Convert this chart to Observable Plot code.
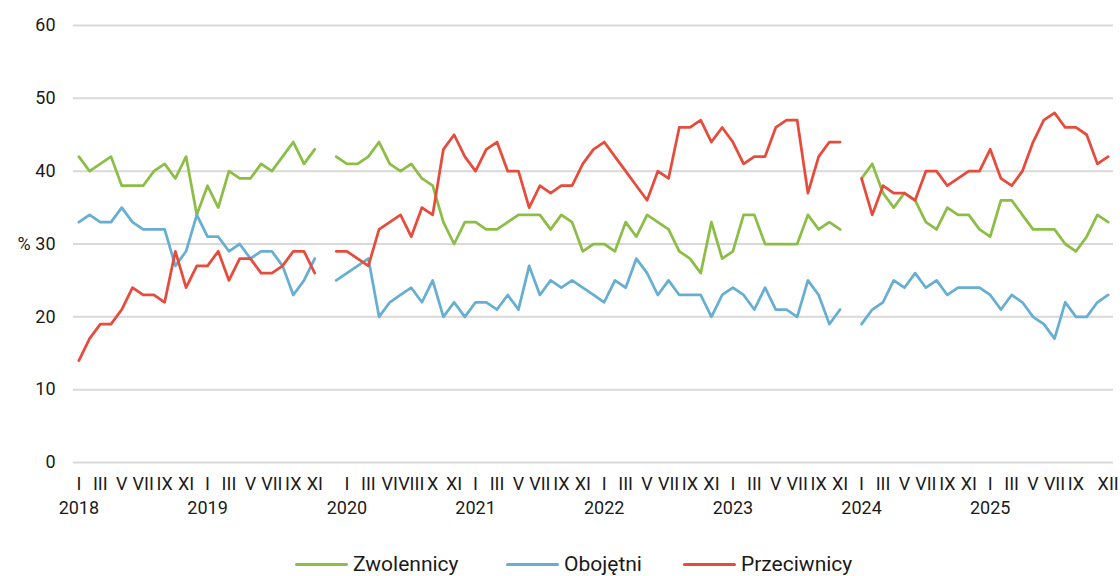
<!DOCTYPE html>
<html><head><meta charset="utf-8">
<script src="https://cdn.jsdelivr.net/npm/d3@7"></script>
<script src="https://cdn.jsdelivr.net/npm/@observablehq/plot@0.6"></script>
<style>
html,body{margin:0;padding:0;background:#fff;}
#wrap{position:relative;width:1120px;height:576px;font-family:Roboto,"Noto Sans",sans-serif;overflow:hidden;}
#legend{position:absolute;left:0;top:553px;width:1120px;height:23px;}
.item{position:absolute;top:0;height:23px;line-height:23px;display:flex;align-items:center;font-size:21px;color:#1a1a1a;white-space:nowrap;}
.sw{width:53px;height:3px;margin-right:5px;border-radius:1.5px;}
</style></head><body><div id="wrap"><div id="chart"></div><div id="legend"></div></div>
<script>
// Series names and colours
const seriesNames = ["Zwolennicy", "Obojętni", "Przeciwnicy"];
const seriesColors = ["#8CBE46", "#67AED3", "#E64B3C"];

// Monthly survey values (97 categories, null = break in the line)
const zwolennicy = [
  42,40,41,42,38,38,38,40,41,39,42,34,            // 2018
  38,35,40,39,39,41,40,42,44,41,43,null,          // 2019
  42,41,41,42,44,41,40,41,39,38,33,30,33,         // 2020
  33,32,32,33,34,34,34,32,34,33,29,30,            // 2021
  30,29,33,31,34,33,32,29,28,26,33,28,            // 2022
  29,34,34,30,30,30,30,34,32,33,32,null,          // 2023
  39,41,37,35,37,36,33,32,35,34,34,32,            // 2024
  31,36,36,34,32,32,32,30,29,31,34,33             // 2025
];
const obojetni = [
  33,34,33,33,35,33,32,32,32,27,29,34,
  31,31,29,30,28,29,29,27,23,25,28,null,
  25,26,27,28,20,22,23,24,22,25,20,22,20,
  22,22,21,23,21,27,23,25,24,25,24,23,
  22,25,24,28,26,23,25,23,23,23,20,23,
  24,23,21,24,21,21,20,25,23,19,21,null,
  19,21,22,25,24,26,24,25,23,24,24,24,
  23,21,23,22,20,19,17,22,20,20,22,23
];
const przeciwnicy = [
  14,17,19,19,21,24,23,23,22,29,24,27,
  27,29,25,28,28,26,26,27,29,29,26,null,
  29,29,28,27,32,33,34,31,35,34,43,45,42,
  40,43,44,40,40,35,38,37,38,38,41,43,
  44,42,40,38,36,40,39,46,46,47,44,46,
  44,41,42,42,46,47,47,37,42,44,44,null,
  39,34,38,37,37,36,40,40,38,39,40,40,
  43,39,38,40,44,47,48,46,46,45,41,42
];

// Category axis labels
const monthTickIdx = [0,2,4,6,8,10, 12,14,16,18,20,22, 25,27,29,31,33,35, 37,39,41,43,45,47,
  49,51,53,55,57,59, 61,63,65,67,69,71, 73,75,77,79,81,83, 85,87,89,91,93,96];
const monthTickLabels = ["I","III","V","VII","IX","XI", "I","III","V","VII","IX","XI", "I","III","VI","VIII","X","XI",
  "I","III","V","VII","IX","XI", "I","III","V","VII","IX","XI", "I","III","V","VII","IX","XI",
  "I","III","V","VII","IX","XI", "I","III","V","VII","IX","XII"];
const yearTickIdx = [0,12,25,37,49,61,73,85];
const yearLabels = ["2018","2019","2020","2021","2022","2023","2024","2025"];
const yTicks = [0,10,20,30,40,50,60];
const yUnit = "%";

const seriesValues = [zwolennicy, obojetni, przeciwnicy];
const rows = [];
seriesValues.forEach((arr, s) => arr.forEach((v, i) => rows.push({i, v, s: seriesNames[s]})));
const nCat = zwolennicy.length;

const chart = Plot.plot({
  width: 1120,
  height: 540,
  marginLeft: 73,
  marginRight: 7,
  marginTop: 25,
  marginBottom: 78,
  style: {fontFamily: "Roboto, 'Noto Sans', sans-serif", fontSize: "18px", color: "#1a1a1a", background: "#fff"},
  x: {type: "linear", domain: [-0.5, nCat - 0.5]},
  y: {domain: [0, 60]},
  color: {domain: seriesNames, range: seriesColors},
  marks: [
    Plot.gridY(yTicks, {stroke: "#d9d9d9", strokeWidth: 2, strokeOpacity: 1}),
    Plot.axisY(yTicks, {tickSize: 0, tickPadding: 18, fontSize: 18, label: null}),
    Plot.axisX(monthTickIdx, {tickSize: 0, tickPadding: 15, fontSize: 18, label: null,
      tickFormat: d => monthTickLabels[monthTickIdx.indexOf(d)]}),
    Plot.axisX(yearTickIdx, {tickSize: 0, tickPadding: 39, fontSize: 18, label: null,
      tickFormat: d => yearLabels[yearTickIdx.indexOf(d)]}),
    Plot.text([yUnit], {frameAnchor: "left", y: () => 30, dx: -56, fontSize: 18, text: d => d}),
    Plot.line(rows, {x: "i", y: "v", z: "s", stroke: "s", strokeWidth: 2.75,
      strokeLinejoin: "round", strokeLinecap: "round"})
  ]
});
document.getElementById("chart").appendChild(chart);

// Legend
const legendLeft = [295, 506, 683];
const legend = document.getElementById("legend");
seriesNames.forEach((name, k) => {
  const it = document.createElement("div");
  it.className = "item";
  it.style.left = legendLeft[k] + "px";
  const sw = document.createElement("div");
  sw.className = "sw";
  sw.style.background = seriesColors[k];
  const tx = document.createElement("span");
  tx.textContent = name;
  it.appendChild(sw); it.appendChild(tx);
  legend.appendChild(it);
});
</script></body></html>
